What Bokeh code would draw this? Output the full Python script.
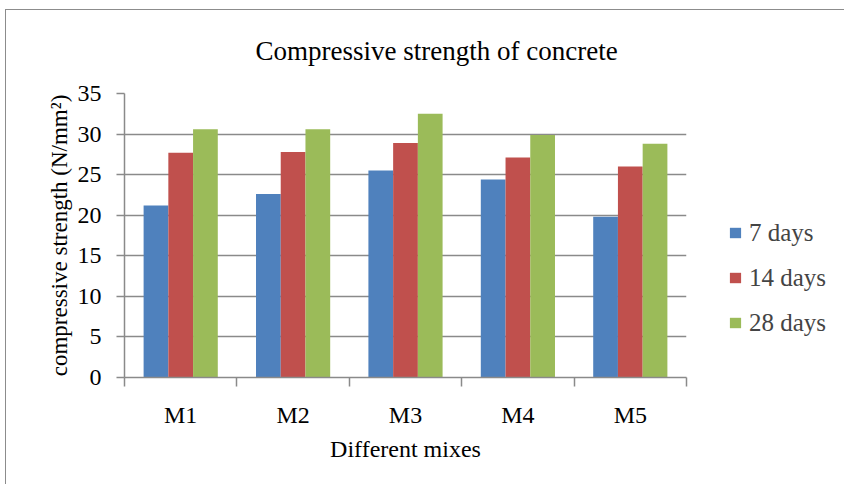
import numpy as np
from bokeh.plotting import figure
from bokeh.models import Range1d, FixedTicker, Legend, LegendItem, Title, ColumnDataSource
from bokeh.embed import file_html
from bokeh.resources import INLINE
from bokeh.transform import dodge

# ---- data ----
mixes = ["M1", "M2", "M3", "M4", "M5"]
series_names = ["7 days", "14 days", "28 days"]
days7 = [21.2, 22.6, 25.5, 24.4, 19.8]
days14 = [27.7, 27.8, 28.9, 27.1, 26.0]
days28 = [30.6, 30.6, 32.5, 29.9, 28.8]
y_ticks = [0, 5, 10, 15, 20, 25, 30, 35]
colors = ["#4F81BD", "#C0504D", "#9BBB59"]

FONT = "Liberation Serif"
GRAY = "#8a8a8a"

src = ColumnDataSource(dict(
    x=np.arange(len(mixes)) + 0.5,
    d7=days7, d14=days14, d28=days28,
))

p = figure(frame_width=562, frame_height=284, output_backend="svg", toolbar_location=None,
           x_range=Range1d(0, len(mixes)), y_range=Range1d(0, 35),
           min_border_left=124, min_border_right=154, min_border_top=93,
           min_border_bottom=107)
p.styles = {
    "background": ("linear-gradient(#8c8c8c,#8c8c8c) 5px 9px / 1px 100% no-repeat, "
                   "linear-gradient(#8c8c8c,#8c8c8c) 5px 9px / 100% 1px no-repeat, white"),
}
p.outline_line_color = None
p.background_fill_color = "white"
p.border_fill_color = None

offsets = [-0.22, 0.0, 0.22]
fields = ["d7", "d14", "d28"]
renderers = []
for f, off, c in zip(fields, offsets, colors):
    r = p.vbar(x=dodge("x", off, range=p.x_range), top=f, width=0.22, bottom=0,
               source=src, fill_color=c, line_color=None)
    renderers.append(r)

# x axis
xa = p.xaxis[0]
xa.ticker = FixedTicker(ticks=list(np.arange(len(mixes)) + 0.5),
                        minor_ticks=list(range(len(mixes) + 1)))
xa.major_label_overrides = {float(i + 0.5): m for i, m in enumerate(mixes)}
xa.major_tick_out = 0
xa.major_tick_in = 0
xa.minor_tick_out = 9
xa.minor_tick_in = 0
xa.minor_tick_line_color = GRAY
xa.minor_tick_line_width = 1.5
xa.axis_line_color = GRAY
xa.axis_line_width = 1.5
xa.major_label_standoff = 15
xa.major_label_text_font = FONT
xa.major_label_text_font_size = "24px"
xa.major_label_text_color = "black"
xa.axis_label = "Different mixes"
xa.axis_label_text_font = FONT
xa.axis_label_text_font_size = "24px"
xa.axis_label_text_font_style = "normal"
xa.axis_label_text_color = "black"
xa.axis_label_standoff = 5

# y axis
ya = p.yaxis[0]
ya.ticker = FixedTicker(ticks=y_ticks)
ya.minor_tick_line_color = None
ya.major_tick_out = 8
ya.major_tick_in = 0
ya.major_tick_line_color = GRAY
ya.major_tick_line_width = 1.5
ya.axis_line_color = GRAY
ya.axis_line_width = 1.5
ya.major_label_standoff = 15
ya.major_label_text_font = FONT
ya.major_label_text_font_size = "24px"
ya.major_label_text_color = "black"
ya.axis_label = "compressive strength (N/mm²)"
ya.axis_label_text_font = FONT
ya.axis_label_text_font_size = "23px"
ya.axis_label_text_font_style = "normal"
ya.axis_label_text_color = "black"
ya.axis_label_standoff = 3

p.xgrid.visible = False
p.ygrid.ticker = FixedTicker(ticks=y_ticks)
p.ygrid.grid_line_color = GRAY
p.ygrid.grid_line_width = 1.5

# title
title = Title(text="Compressive strength of concrete", align="left", offset=131,
              standoff=56, text_font=FONT, text_font_size="27px",
              text_font_style="normal", text_color="black")
p.add_layout(title, "above")

legend = Legend(items=[LegendItem(label=n, renderers=[r]) for n, r in zip(series_names, renderers)],
                location=(42, 40), orientation="vertical",
                glyph_width=14, glyph_height=13, label_standoff=7,
                label_text_font=FONT, label_text_font_size="25px",
                label_height=29, spacing=16, padding=0, margin=28,
                border_line_color=None, background_fill_alpha=0)
p.add_layout(legend, "right")

open("out.html", "w").write(file_html(p, INLINE))
